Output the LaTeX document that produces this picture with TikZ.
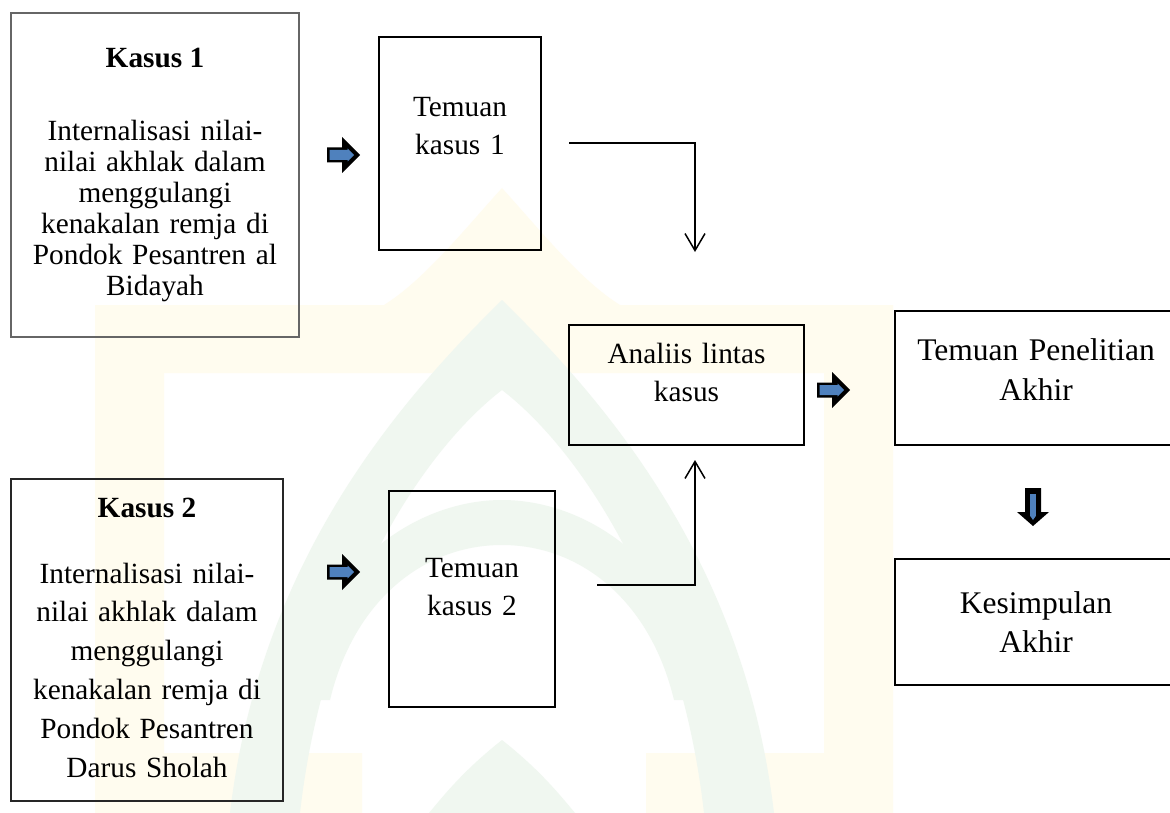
\documentclass[tikz,border=0pt]{standalone}
\usepackage{fontspec}
\setmainfont{Liberation Serif}
\usetikzlibrary{arrows.meta}
\definecolor{arrowblue}{RGB}{79,129,189}
\definecolor{wmyellow}{RGB}{255,252,239}
\definecolor{wmgreen}{RGB}{240,247,240}
\tikzset{
  box/.style={draw=black, line width=1.6pt, inner sep=0pt, outer sep=0pt, rectangle},
  txt/.style={inner sep=0pt, outer sep=0pt, align=center, font=\fontsize{29.3}{38.8}\selectfont},
  bigtxt/.style={inner sep=0pt, outer sep=0pt, align=center, font=\fontsize{31.5}{40}\selectfont},
  conn/.style={line width=1.5pt, -{Straight Barb[length=17pt,width=20pt,line width=1.5pt]}},
  pics/rarrow/.style={code={
    \fill[black] (-17,-7.5) -- (-2,-7.5) -- (-2,-18) -- (16,0) -- (-2,18) -- (-2,7.5) -- (-17,7.5) -- cycle;
    \fill[arrowblue] (-14.5,-5) -- (3.5,-5) -- (3.5,-6.5) -- (10,0) -- (3.5,6.5) -- (3.5,5) -- (-14.5,5) -- cycle;}},
  pics/darrow/.style={code={
    \fill[black] (-8,-19) -- (8,-19) -- (8,5) -- (16,5) -- (0,19) -- (-16,5) -- (-8,5) -- cycle;
    \fill[arrowblue] (-2.8,-13) -- (2.8,-13) -- (2.8,9) -- (0,13) -- (-2.8,9) -- cycle;}}
}
\begin{document}
\begin{tikzpicture}[x=1pt,y=-1pt]
\path[use as bounding box] (0,0) rectangle (1170,813);
\clip (0,0) rectangle (1170,813);
\fill[white] (0,0) rectangle (1170,813);
% faint watermark
\fill[wmyellow, even odd rule] (95,305) rectangle (893,813)
  (164,373) -- (824,373) -- (824,753) -- (646,753) -- (646,813) -- (362,813) -- (362,753) -- (164,753) -- cycle;
\fill[wmyellow] (502,188) .. controls (540,230) and (580,280) .. (620,305) -- (384,305) .. controls (424,280) and (464,230) .. (502,188) -- cycle;
\fill[wmgreen] (230,813) .. controls (260,560) and (400,400) .. (502,300) .. controls (604,400) and (744,560) .. (774,813)
  -- (704,813) .. controls (680,600) and (580,450) .. (502,390) .. controls (424,450) and (324,600) .. (300,813) -- cycle;
\fill[wmgreen] (290,700) .. controls (320,560) and (420,500) .. (502,500) .. controls (584,500) and (684,560) .. (714,700)
  -- (674,700) .. controls (650,600) and (580,545) .. (502,545) .. controls (424,545) and (354,600) .. (330,700) -- cycle;
\fill[wmgreen] (502,740) .. controls (540,770) and (560,795) .. (575,813) -- (429,813) .. controls (444,795) and (464,770) .. (502,740) -- cycle;

% boxes
\node[box, draw=black!60, minimum width=288pt, minimum height=324pt] (k1) at (155,175) {};
\node[box, draw=black!85, minimum width=272pt, minimum height=322pt] (k2) at (147,640) {};
\node[box, minimum width=162pt, minimum height=213pt] (t1) at (460,143.5) {};
\node[box, minimum width=166pt, minimum height=216pt] (t2) at (472,599) {};
\node[box, minimum width=235pt, minimum height=120pt] (lintas) at (686.5,385) {};
\node[box, minimum width=282pt, minimum height=134pt] (akhir) at (1036,378) {};
\node[box, minimum width=282pt, minimum height=126pt] (kesimpulan) at (1036,622) {};

% texts
\node[txt, anchor=base] (k1title) at (155,68) {\textbf{Kasus 1}};
\node[txt, text width=280pt, anchor=base, font=\fontsize{29.3}{31}\selectfont] (k1body) at (155,141)
  {Internalisasi nilai-\\nilai akhlak dalam\\menggulangi\\kenakalan remja di\\Pondok Pesantren al\\Bidayah};
\node[txt, anchor=base] (k2title) at (147,517) {\textbf{Kasus 2}};
\node[txt, text width=268pt, anchor=base] (k2body) at (147,583)
  {Internalisasi nilai-\\nilai akhlak dalam\\menggulangi\\kenakalan remja di\\Pondok Pesantren\\Darus Sholah};
\node[txt, text width=150pt, anchor=base, font=\fontsize{29.3}{37.5}\selectfont] (t1txt) at (460,117) {Temuan\\kasus 1};
\node[txt, text width=150pt, anchor=base] (t2txt) at (472,577) {Temuan\\kasus 2};
\node[txt, text width=230pt, anchor=base] (lintastxt) at (686.5,363) {Analiis lintas\\kasus};
\node[bigtxt, text width=270pt, anchor=base] (akhirtxt) at (1036,360) {Temuan Penelitian\\Akhir};
\node[bigtxt, text width=270pt, anchor=base, font=\fontsize{31.5}{39}\selectfont] (kesimpulantxt) at (1036,613) {Kesimpulan\\Akhir};

% block arrows
\pic (ba1) at (344,155) {rarrow};
\pic (ba2) at (344,572) {rarrow};
\pic (ba3) at (834,390) {rarrow};
\pic (ba4) at (1033,507) {darrow};

% connectors
\coordinate (t1out) at (569,143);
\coordinate (lintasin1) at (695,252);
\coordinate (t2out) at (597,585);
\coordinate (lintasin2) at (695,460);
\draw[conn] (t1out) -| (lintasin1);
\draw[conn] (t2out) -| (lintasin2);
\end{tikzpicture}
\end{document}
